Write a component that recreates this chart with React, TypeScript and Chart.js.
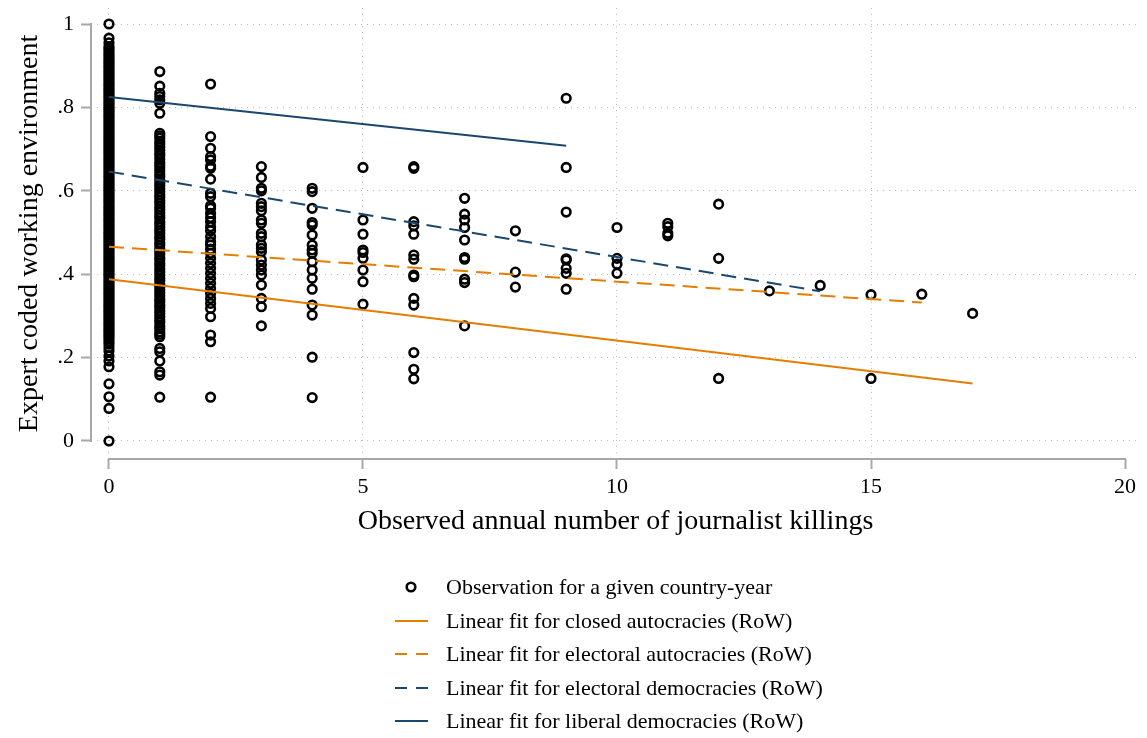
import React, { useEffect, useRef } from 'react';
import { Chart, registerables } from 'chart.js';

Chart.register(...registerables);

// ---------- DATA ----------
const xTickValues = [0, 5, 10, 15, 20];
const xTickLabels = ['0', '5', '10', '15', '20'];
const yTickValues = [0, 0.2, 0.4, 0.6, 0.8, 1];
const yTickLabels = ['0', '.2', '.4', '.6', '.8', '1'];

const xTitle = 'Observed annual number of journalist killings';
const yTitle = 'Expert coded working environment';

// Expert-coded working environment per country-year, grouped by observed killings
const envAt0 = [
  1.0, 0.966, 0.955,
  0.946, 0.941, 0.936, 0.930, 0.925, 0.920, 0.915, 0.910, 0.905, 0.900,
  0.895, 0.890, 0.885, 0.880, 0.875, 0.870, 0.865, 0.860, 0.855, 0.850,
  0.845, 0.840, 0.835, 0.830, 0.825, 0.820, 0.815, 0.810, 0.805, 0.800,
  0.795, 0.790, 0.785, 0.780, 0.775, 0.770, 0.765, 0.760, 0.755, 0.750,
  0.745, 0.740, 0.735, 0.730, 0.725, 0.720, 0.715, 0.710, 0.705, 0.700,
  0.695, 0.690, 0.685, 0.680, 0.675, 0.670, 0.665, 0.660, 0.655, 0.650,
  0.645, 0.640, 0.635, 0.630, 0.625, 0.620, 0.615, 0.610, 0.605, 0.600,
  0.595, 0.590, 0.585, 0.580, 0.575, 0.570, 0.565, 0.560, 0.555, 0.550,
  0.545, 0.540, 0.535, 0.530, 0.525, 0.520, 0.515, 0.510, 0.505, 0.500,
  0.495, 0.490, 0.485, 0.480, 0.475, 0.470, 0.465, 0.460, 0.455, 0.450,
  0.445, 0.440, 0.435, 0.430, 0.425, 0.420, 0.415, 0.410, 0.405, 0.400,
  0.395, 0.390, 0.385, 0.380, 0.375, 0.370, 0.365, 0.360, 0.355, 0.350,
  0.345, 0.340, 0.335, 0.330, 0.325, 0.320, 0.315, 0.310, 0.305, 0.300,
  0.295, 0.290, 0.285, 0.280, 0.275, 0.270, 0.265, 0.260, 0.255, 0.250,
  0.244, 0.238, 0.232, 0.224, 0.216, 0.204, 0.192, 0.178,
  0.137, 0.106, 0.078, 0.0,
];
const envAt1 = [
  0.886, 0.851, 0.834, 0.826, 0.818, 0.810, 0.786,
  0.738, 0.732, 0.726, 0.718, 0.712, 0.705, 0.698, 0.690, 0.684, 0.676,
  0.668, 0.662, 0.655, 0.648, 0.640, 0.634, 0.626, 0.618, 0.612, 0.605,
  0.598, 0.590, 0.584, 0.576, 0.570, 0.562, 0.555, 0.548, 0.540, 0.534,
  0.526, 0.520, 0.512, 0.505, 0.498, 0.490, 0.484, 0.476, 0.470, 0.462,
  0.455, 0.448, 0.440, 0.434, 0.426, 0.420, 0.412, 0.405, 0.398, 0.390,
  0.384, 0.376, 0.370, 0.362, 0.355, 0.348, 0.340, 0.334, 0.326, 0.320,
  0.312, 0.305, 0.298, 0.290, 0.284, 0.276, 0.270, 0.262, 0.256, 0.250,
  0.222, 0.214, 0.192, 0.166, 0.158, 0.105,
];
const envAt2 = [
  0.856, 0.730, 0.702, 0.682, 0.674, 0.659, 0.654, 0.628, 0.594, 0.586,
  0.564, 0.558, 0.546, 0.536, 0.526, 0.514, 0.504, 0.490, 0.478, 0.470,
  0.460, 0.450, 0.438, 0.426, 0.414, 0.402, 0.390, 0.378, 0.366, 0.354,
  0.342, 0.330, 0.318, 0.298, 0.254, 0.238, 0.105,
];
const envAt3 = [
  0.658, 0.632, 0.606, 0.600, 0.570, 0.562, 0.552, 0.530, 0.522, 0.498,
  0.490, 0.470, 0.462, 0.454, 0.434, 0.422, 0.410, 0.398, 0.374, 0.342,
  0.322, 0.276,
];
const envAt4 = [
  0.606, 0.598, 0.558, 0.524, 0.518, 0.494, 0.470, 0.458, 0.450, 0.430,
  0.410, 0.390, 0.364, 0.326, 0.302, 0.201, 0.104,
];
const envAt5 = [0.656, 0.530, 0.496, 0.458, 0.452, 0.438, 0.410, 0.382, 0.328];
const envAt6 = [
  0.658, 0.654, 0.526, 0.516, 0.496, 0.446, 0.436, 0.398, 0.394, 0.342,
  0.326, 0.212, 0.172, 0.149,
];
const envAt7 = [0.582, 0.544, 0.530, 0.512, 0.482, 0.440, 0.436, 0.388, 0.380, 0.276];
const envAt8 = [0.504, 0.405, 0.369];
const envAt9 = [0.822, 0.656, 0.549, 0.437, 0.434, 0.414, 0.402, 0.364];
const envAt10 = [0.512, 0.438, 0.424, 0.402];
const envAt11 = [0.522, 0.514, 0.498, 0.492];
const envAt12 = [0.568, 0.438, 0.150];
const envAt13 = [0.360];
const envAt14 = [0.373];
const envAt15 = [0.351, 0.150];
const envAt16 = [0.352];
const envAt17 = [0.306];

const killingCounts = [0, 1, 2, 3, 4, 5, 6, 7, 8, 9, 10, 11, 12, 13, 14, 15, 16, 17];
const envColumns = [
  envAt0, envAt1, envAt2, envAt3, envAt4, envAt5, envAt6, envAt7, envAt8,
  envAt9, envAt10, envAt11, envAt12, envAt13, envAt14, envAt15, envAt16, envAt17,
];

// Linear fits (start and end points)
const fitClosedAutocracies = [{ x: 0, y: 0.388 }, { x: 17, y: 0.138 }];
const fitElectoralAutocracies = [{ x: 0, y: 0.466 }, { x: 16, y: 0.332 }];
const fitElectoralDemocracies = [{ x: 0, y: 0.646 }, { x: 14, y: 0.359 }];
const fitLiberalDemocracies = [{ x: 0, y: 0.825 }, { x: 9, y: 0.708 }];

const legendLabels = [
  'Observation for a given country-year',
  'Linear fit for closed autocracies (RoW)',
  'Linear fit for electoral autocracies (RoW)',
  'Linear fit for electoral democracies (RoW)',
  'Linear fit for liberal democracies (RoW)',
];

// ---------- STYLE ----------
const FONT = '"Liberation Serif", "Times New Roman", Times, serif';
const ORANGE = '#e37e00';
const NAVY = '#1a476f';
const GRID = '#bdbdbd';
const AXIS = '#a8a8a8';
const DASH = [15, 8];
const MARKER_R = 4.3;
const MARKER_W = 2.6;

const axisLinesPlugin = {
  id: 'axisLines',
  beforeDatasetsDraw(chart: any) {
    const { ctx, chartArea, scales } = chart;
    const xs = scales.x;
    const ys = scales.y;
    ctx.save();
    ctx.strokeStyle = AXIS;
    ctx.lineWidth = 2;
    ctx.beginPath();
    const yTop = ys.getPixelForValue(yTickValues[yTickValues.length - 1]);
    const yBot = ys.getPixelForValue(yTickValues[0]);
    ctx.moveTo(chartArea.left, yTop - 1);
    ctx.lineTo(chartArea.left, yBot + 1);
    const xL = xs.getPixelForValue(xTickValues[0]);
    const xR = xs.getPixelForValue(xTickValues[xTickValues.length - 1]);
    ctx.moveTo(xL - 1, chartArea.bottom);
    ctx.lineTo(xR + 1, chartArea.bottom);
    ctx.stroke();
    ctx.restore();
  },
};

const legendItems = [
  { kind: 'marker', color: '#000', dashed: false },
  { kind: 'line', color: ORANGE, dashed: false },
  { kind: 'line', color: ORANGE, dashed: true },
  { kind: 'line', color: NAVY, dashed: true },
  { kind: 'line', color: NAVY, dashed: false },
];
const legendRowCenters = [587, 621, 654, 688, 721];

const zeroPadding = (s: any) => {
  s.paddingTop = 0;
  s.paddingBottom = 0;
  s.paddingLeft = 0;
  s.paddingRight = 0;
};

export default function App() {
  const canvasRef = useRef<HTMLCanvasElement>(null);

  useEffect(() => {
    const observations: { x: number; y: number }[] = [];
    killingCounts.forEach((k, i) => {
      envColumns[i].forEach((v) => observations.push({ x: k, y: v }));
    });

    const lineDs = (label: string, data: any, color: string, dashed: boolean) => ({
      label,
      data,
      showLine: true,
      borderColor: color,
      backgroundColor: color,
      borderWidth: 2,
      borderDash: dashed ? DASH : [],
      pointRadius: 0,
      pointHoverRadius: 0,
      order: 0,
    });

    const chart = new Chart(canvasRef.current as HTMLCanvasElement, {
      type: 'scatter',
      data: {
        datasets: [
          lineDs(legendLabels[1], fitClosedAutocracies, ORANGE, false),
          lineDs(legendLabels[2], fitElectoralAutocracies, ORANGE, true),
          lineDs(legendLabels[3], fitElectoralDemocracies, NAVY, true),
          lineDs(legendLabels[4], fitLiberalDemocracies, NAVY, false),
          {
            label: legendLabels[0],
            data: observations,
            showLine: false,
            pointRadius: MARKER_R,
            pointHoverRadius: MARKER_R,
            borderWidth: MARKER_W,
            borderColor: '#000',
            backgroundColor: 'rgba(0,0,0,0)',
            order: 1,
          } as any,
        ],
      },
      options: {
        animation: false,
        responsive: true,
        maintainAspectRatio: false,
        events: [],
        layout: { padding: { left: 0, right: 7, top: 8, bottom: 179 } },
        plugins: {
          legend: { display: false },
          tooltip: { enabled: false },
        },
        scales: {
          x: {
            type: 'linear',
            min: -0.354,
            max: 20.295,
            afterBuildTicks: (s: any) => {
              s.ticks = xTickValues.map((v) => ({ value: v }));
            },
            afterFit: (s: any) => {
              s.height = 100;
              zeroPadding(s);
            },
            ticks: {
              autoSkip: false,
              maxRotation: 0,
              padding: 5,
              color: '#000',
              font: { family: FONT, size: 22 },
              callback: (v: any) => {
                const i = xTickValues.indexOf(Number(v));
                return i >= 0 ? xTickLabels[i] : '';
              },
            },
            grid: {
              color: (c: any) => (c.tick && c.tick.value === 20 ? 'rgba(0,0,0,0)' : GRID),
              lineWidth: 1,
              drawTicks: true,
              tickLength: 10,
              tickColor: AXIS,
              tickWidth: 2,
              tickBorderDash: [],
            },
            border: { display: false, dash: [1, 5] },
            title: {
              display: true,
              text: xTitle,
              color: '#000',
              font: { family: FONT, size: 28 },
              padding: { top: 0, bottom: 21 },
            },
          },
          y: {
            type: 'linear',
            min: -0.0432,
            max: 1.0384,
            afterBuildTicks: (s: any) => {
              s.ticks = yTickValues.map((v) => ({ value: v }));
            },
            afterFit: (s: any) => {
              s.width = 91;
              zeroPadding(s);
            },
            ticks: {
              autoSkip: false,
              padding: 7,
              color: '#000',
              font: { family: FONT, size: 22 },
              callback: (v: any) => {
                const i = yTickValues.findIndex((t) => Math.abs(t - Number(v)) < 1e-9);
                return i >= 0 ? yTickLabels[i] : '';
              },
            },
            grid: {
              color: GRID,
              lineWidth: 1,
              drawTicks: true,
              tickLength: 10,
              tickColor: AXIS,
              tickWidth: 2,
              tickBorderDash: [],
            },
            border: { display: false, dash: [1, 5] },
            title: {
              display: true,
              text: yTitle,
              color: '#000',
              font: { family: FONT, size: 28 },
              padding: { top: 13, bottom: 0 },
            },
          },
        },
      } as any,
      plugins: [axisLinesPlugin],
    });
    return () => chart.destroy();
  }, []);

  return (
    <div
      style={{
        position: 'fixed',
        left: 0,
        top: 0,
        width: 1147,
        height: 738,
        background: '#ffffff',
        overflow: 'hidden',
      }}
    >
      <div style={{ position: 'absolute', left: 0, top: 0, width: 1147, height: 738 }}>
        <canvas ref={canvasRef} />
      </div>
      {legendItems.map((item, i) => (
        <div
          key={i}
          style={{
            position: 'absolute',
            left: 380,
            top: legendRowCenters[i] - 17,
            width: 620,
            height: 34,
          }}
        >
          <svg
            width={50}
            height={34}
            style={{ position: 'absolute', left: 10, top: 0 }}
          >
            {item.kind === 'marker' ? (
              <circle cx={21} cy={17} r={MARKER_R} fill="none" stroke="#000" strokeWidth={MARKER_W} />
            ) : (
              <line
                x1={5}
                y1={17}
                x2={38}
                y2={17}
                stroke={item.color}
                strokeWidth={2.2}
                strokeDasharray={item.dashed ? '12 9' : undefined}
              />
            )}
          </svg>
          <span
            style={{
              position: 'absolute',
              left: 66,
              top: 0,
              lineHeight: '34px',
              fontFamily: FONT,
              fontSize: 22,
              color: '#000',
              whiteSpace: 'nowrap',
            }}
          >
            {legendLabels[i]}
          </span>
        </div>
      ))}
    </div>
  );
}
